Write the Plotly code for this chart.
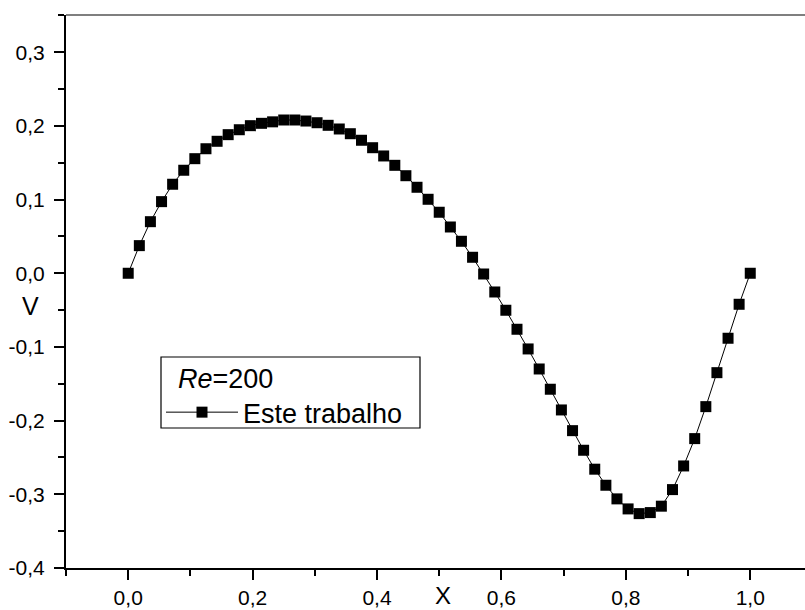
import plotly.graph_objects as go

x_vals = [0.0000, 0.0179, 0.0357, 0.0536, 0.0714, 0.0893, 0.1071, 0.1250, 0.1429, 0.1607,
          0.1786, 0.1964, 0.2143, 0.2321, 0.2500, 0.2679, 0.2857, 0.3036, 0.3214, 0.3393,
          0.3571, 0.3750, 0.3929, 0.4107, 0.4286, 0.4464, 0.4643, 0.4821, 0.5000, 0.5179,
          0.5357, 0.5536, 0.5714, 0.5893, 0.6071, 0.6250, 0.6429, 0.6607, 0.6786, 0.6964,
          0.7143, 0.7321, 0.7500, 0.7679, 0.7857, 0.8036, 0.8214, 0.8393, 0.8571, 0.8750,
          0.8929, 0.9107, 0.9286, 0.9464, 0.9643, 0.9821, 1.0000]
v_vals = [0.0000, 0.0375, 0.0700, 0.0972, 0.1208, 0.1398, 0.1555, 0.1690, 0.1791, 0.1881,
          0.1948, 0.2003, 0.2035, 0.2055, 0.2080, 0.2080, 0.2066, 0.2043, 0.2008, 0.1958,
          0.1894, 0.1805, 0.1704, 0.1592, 0.1465, 0.1324, 0.1167, 0.1004, 0.0828, 0.0628,
          0.0434, 0.0217, -0.0010, -0.0254, -0.0502, -0.0760, -0.1027, -0.1299, -0.1574, -0.1855,
          -0.2136, -0.2402, -0.2659, -0.2877, -0.3062, -0.3198, -0.3262, -0.3248, -0.3161, -0.2936,
          -0.2615, -0.2244, -0.1810, -0.1349, -0.0882, -0.0421, 0.0000]

x_tickvals = [0.0, 0.2, 0.4, 0.6, 0.8, 1.0]
x_ticktext = ["0,0", "0,2", "0,4", "0,6", "0,8", "1,0"]
y_tickvals = [-0.4, -0.3, -0.2, -0.1, 0.0, 0.1, 0.2, 0.3]
y_ticktext = ["-0,4", "-0,3", "-0,2", "-0,1", "0,0", "0,1", "0,2", "0,3"]

series_name = "Este trabalho"
legend_title = "&nbsp;&nbsp;<i>Re</i>=200"
x_title = "X"
y_title = "V"

FONT = "Liberation Sans, Arial, sans-serif"

fig = go.Figure()
fig.add_trace(go.Scatter(
    x=x_vals, y=v_vals, mode="lines+markers", name=series_name,
    line=dict(color="black", width=1),
    marker=dict(symbol="square", size=11, color="black", line=dict(width=0)),
))

L, T, B = 66, 15, 42
PW, PH = 805 - L, 610 - T - B


def px_x(p):
    return (p - L) / PW


def px_y(p):
    return (610 - B - p) / PH


fig.update_layout(
    template="none",
    width=805, height=610,
    margin=dict(l=L, r=0, t=T, b=B, autoexpand=False),
    paper_bgcolor="white", plot_bgcolor="white",
    font=dict(family=FONT, color="black", size=21),
    showlegend=True,
    legend=dict(
        x=px_x(161), y=px_y(353), xanchor="left", yanchor="top",
        borderwidth=0, bgcolor="rgba(0,0,0,0)",
        font=dict(family=FONT, size=27, color="black"),
        title=dict(text=legend_title, font=dict(family=FONT, size=27, color="black")),
        itemwidth=72, tracegroupgap=0,
    ),
    xaxis=dict(
        range=[-0.1, 1.088], tickmode="array", tickvals=x_tickvals, ticktext=x_ticktext,
        showgrid=False, zeroline=False, automargin=False,
        showline=True, linecolor="black", linewidth=2,
        ticks="outside", ticklen=10, tickwidth=2, tickcolor="black",
        minor=dict(ticks="outside", ticklen=6, tickwidth=2, tickcolor="black",
                   tickmode="linear", dtick=0.2, tick0=0.1, showgrid=False),
        tickfont=dict(family=FONT, size=21, color="black"),
        ticklabelstandoff=0,
    ),
    yaxis=dict(
        range=[-0.4, 0.3505], tickmode="array", tickvals=y_tickvals, ticktext=y_ticktext,
        showgrid=False, zeroline=False, automargin=False,
        showline=True, linecolor="black", linewidth=2,
        ticks="outside", ticklen=10, tickwidth=2, tickcolor="black",
        minor=dict(ticks="outside", ticklen=6, tickwidth=2, tickcolor="black",
                   tickmode="linear", dtick=0.1, tick0=0.05, showgrid=False),
        tickfont=dict(family=FONT, size=21, color="black"),
        ticklabelstandoff=5,
    ),
    shapes=[
        dict(type="line", xref="paper", yref="paper", x0=0, x1=1, y0=1, y1=1,
             line=dict(color="black", width=1.2)),
        dict(type="rect", xref="paper", yref="paper", layer="above",
             x0=px_x(161), x1=px_x(420), y0=px_y(428), y1=px_y(357),
             line=dict(color="black", width=1.2), fillcolor="white"),
    ],
    annotations=[
        dict(text=x_title, xref="paper", yref="paper", x=px_x(443), y=px_y(611),
             xanchor="center", yanchor="bottom", showarrow=False,
             font=dict(family=FONT, size=24, color="black")),
        dict(text=y_title, xref="paper", yref="paper", x=px_x(30), y=px_y(306),
             xanchor="center", yanchor="middle", showarrow=False,
             font=dict(family=FONT, size=25, color="black")),
    ],
)

fig.write_html("out.html", config={"displayModeBar": False},
               post_script="document.body.style.margin='0px';document.body.style.overflow='hidden';")
